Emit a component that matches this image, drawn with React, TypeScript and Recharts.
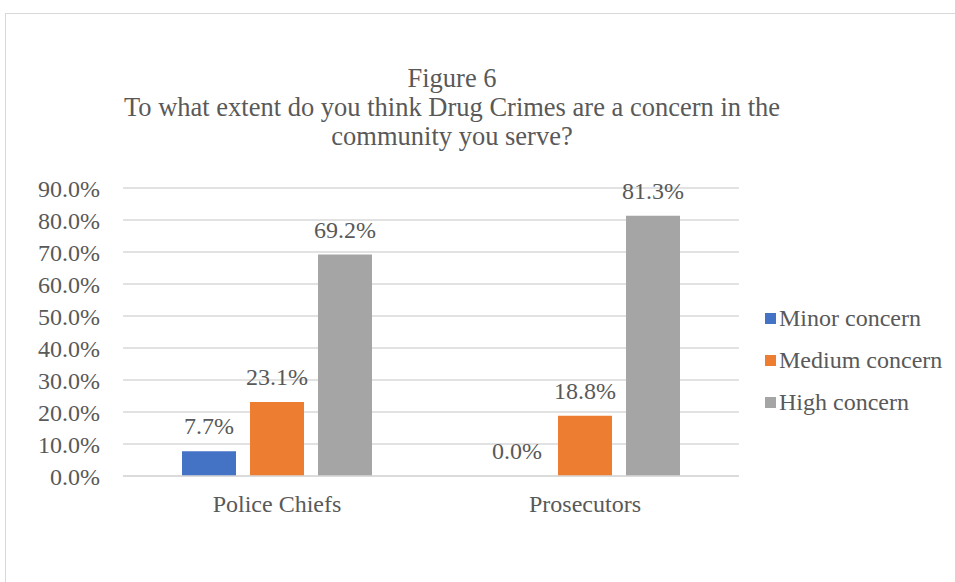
import React from 'react';
import { BarChart, Bar, XAxis, YAxis, CartesianGrid, LabelList, Legend } from 'recharts';

const categories = ['Police Chiefs', 'Prosecutors'];
const minorConcern = [7.7, 0.0];
const mediumConcern = [23.1, 18.8];
const highConcern = [69.2, 81.3];
const yTicks = [0, 10, 20, 30, 40, 50, 60, 70, 80, 90];
const titleLines = [
  'Figure 6',
  'To what extent do you think Drug Crimes are a concern in the',
  'community you serve?',
];
const seriesNames = ['Minor concern', 'Medium concern', 'High concern'];
const seriesColors = ['#4472C4', '#ED7D31', '#A5A5A5'];

const data = categories.map((c, i) => ({
  name: c,
  minor: minorConcern[i],
  medium: mediumConcern[i],
  high: highConcern[i],
}));

const FONT = '"Liberation Serif", "Times New Roman", serif';
const TEXT = '#595959';
const GRID = '#d9d9d9';

const fmt = (v: any) => `${Number(v).toFixed(1)}%`;

const LegendContent = () => (
  <div style={{ fontFamily: FONT, fontSize: 24, color: TEXT }}>
    {seriesNames.map((n, i) => (
      <div key={n} style={{ display: 'flex', alignItems: 'center', height: 42, lineHeight: '42px', whiteSpace: 'nowrap' }}>
        <span style={{ display: 'inline-block', width: 11, height: 11, background: seriesColors[i], marginRight: 3 }} />
        <span>{n}</span>
      </div>
    ))}
  </div>
);

const ValueLabel = (props: any) => {
  const { x, y, width, value } = props;
  if (value === undefined || value === null) return null;
  return (
    <text
      x={Number(x) + Number(width) / 2}
      y={Number(y) - 17}
      textAnchor="middle"
      fill={TEXT}
      fontSize={24}
      fontFamily={FONT}
    >
      {fmt(value)}
    </text>
  );
};

export default function App() {
  const keys = ['minor', 'medium', 'high'];
  return (
    <div style={{ position: 'absolute', left: 0, top: 0, width: 955, height: 582, background: '#fff', overflow: 'hidden', fontFamily: FONT }}>
      <div style={{ position: 'absolute', left: 5, top: 13, width: 1000, height: 700, border: `1.5px solid ${GRID}`, boxSizing: 'border-box' }} />
      <div style={{ position: 'absolute', left: 0, top: 63.5, width: 904, textAlign: 'center', fontSize: 26.5, lineHeight: '29px', color: TEXT, whiteSpace: 'nowrap' }}>
        {titleLines.map((l) => (
          <div key={l}>{l}</div>
        ))}
      </div>
      <div style={{ position: 'absolute', left: 0, top: 0 }}>
        <BarChart
          width={955}
          height={582}
          data={data}
          margin={{ top: 188, right: 216, bottom: 66, left: 43 }}
          barSize={54}
          barGap={14}
        >
          <CartesianGrid vertical={false} stroke={GRID} strokeWidth={1.5} />
          <XAxis
            dataKey="name"
            height={40}
            axisLine={{ stroke: GRID, strokeWidth: 1.5 }}
            tickLine={false}
            tickSize={0}
            tickMargin={19}
            tick={{ fill: TEXT, fontSize: 24, fontFamily: FONT }}
          />
          <YAxis
            width={80}
            domain={[0, 90]}
            ticks={yTicks}
            interval={0}
            axisLine={false}
            tickLine={false}
            tickSize={0}
            tickMargin={23}
            tickFormatter={fmt}
            tick={{ fill: TEXT, fontSize: 24, fontFamily: FONT }}
          />
          <Legend
            layout="horizontal"
            align="center"
            verticalAlign="middle"
            content={<LegendContent />}
            wrapperStyle={{ left: 765, top: 297, width: 190, height: 126 }}
          />
          {keys.map((k, i) => (
            <Bar
              key={k}
              dataKey={k}
              name={seriesNames[i]}
              fill={seriesColors[i]}
              minPointSize={0.01}
              isAnimationActive={false}
            >
              <LabelList dataKey={k} content={<ValueLabel />} />
            </Bar>
          ))}
        </BarChart>
      </div>
    </div>
  );
}
